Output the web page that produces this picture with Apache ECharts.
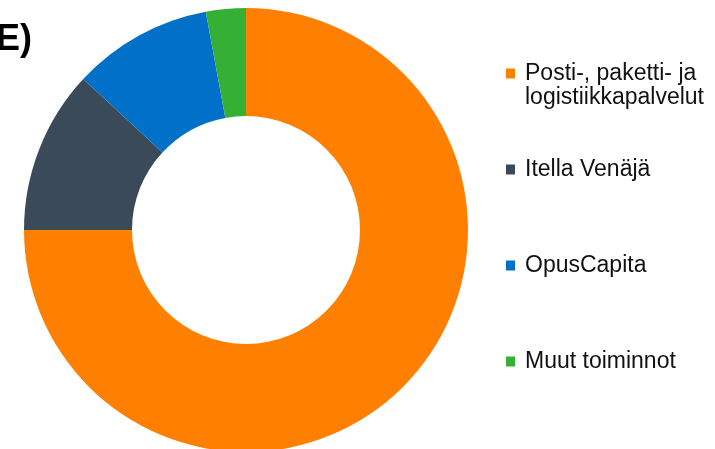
<!DOCTYPE html>
<html>
<head>
<meta charset="utf-8">
<script src="https://cdn.jsdelivr.net/npm/echarts@6/dist/echarts.min.js"></script>
<style>
html,body{margin:0;padding:0;background:#fff;}
#chart{width:715px;height:449px;}
</style>
</head>
<body>
<div id="chart"></div>
<script>
var categories = ['Posti-, paketti- ja', 'Itella Venäjä', 'OpusCapita', 'Muut toiminnot'];
var categoryLine2 = 'logistiikkapalvelut';
var values = [75.0, 11.9, 10.2, 2.9];
var colors = ['#FF8000', '#3B4A58', '#0070C9', '#36B034'];
var titleText = 'E)';

var chart = echarts.init(document.getElementById('chart'), null, {renderer: 'canvas'});
var fontFamily = '"Liberation Sans", Arial, sans-serif';
chart.setOption({
  animation: false,
  color: colors,
  legend: {
    orient: 'vertical',
    left: 506,
    top: 62,
    padding: 0,
    itemWidth: 9,
    itemHeight: 10,
    itemGap: 73,
    icon: 'rect',
    data: categories,
    selectedMode: false,
    textStyle: {
      fontFamily: fontFamily,
      fontSize: 23,
      lineHeight: 22,
      color: '#111111',
      padding: [0, 0, 0, 5]
    }
  },
  graphic: [
    {
      type: 'text',
      left: 525,
      top: 86,
      style: {
        text: categoryLine2,
        font: '23px ' + fontFamily,
        fill: '#111111'
      }
    },
    {
      type: 'text',
      left: -4,
      top: 22,
      style: {
        text: titleText,
        font: 'bold 36px ' + fontFamily,
        fill: '#000000'
      }
    }
  ],
  series: [{
    type: 'pie',
    center: [246, 230],
    radius: [114, 222],
    startAngle: 90,
    clockwise: true,
    label: {show: false},
    labelLine: {show: false},
    emphasis: {disabled: true},
    itemStyle: {borderWidth: 0},
    data: categories.map(function (c, i) {
      return {name: c, value: values[i]};
    })
  }]
});
</script>
</body>
</html>
